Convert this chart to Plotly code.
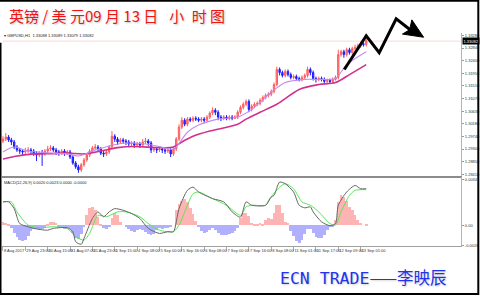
import plotly.graph_objects as go

W, H = 480, 297

# ---------------- data (2-hour bars, GBPUSD) ----------------
bar_idx = list(range(131))

opens = [1.2958,1.2965,1.2972,1.2962,1.2955,1.2937,1.2927,1.2923,1.2920,1.2923,
         1.2927,1.2923,1.2916,1.2909,1.2916,1.2913,1.2923,1.2930,1.2934,1.2927,
         1.2920,1.2916,1.2923,1.2916,1.2920,1.2902,1.2881,1.2868,1.2857,1.2875,
         1.2892,1.2909,1.2923,1.2934,1.2937,1.2930,1.2916,1.2913,1.2920,1.2937,
         1.2975,1.2965,1.2955,1.2962,1.2958,1.2955,1.2948,1.2951,1.2944,1.2948,
         1.2944,1.2955,1.2958,1.2951,1.2927,1.2930,1.2927,1.2930,1.2927,1.2923,
         1.2927,1.2913,1.2930,1.2965,1.3007,1.3031,1.3017,1.3035,1.3031,1.3038,
         1.3035,1.3031,1.3035,1.3031,1.3042,1.3056,1.3066,1.3059,1.3042,1.3038,
         1.3042,1.3038,1.3042,1.3038,1.3042,1.3059,1.3076,1.3087,1.3097,1.3069,
         1.3080,1.3087,1.3090,1.3101,1.3111,1.3118,1.3122,1.3132,1.3156,1.3209,
         1.3198,1.3188,1.3202,1.3191,1.3181,1.3184,1.3177,1.3174,1.3181,1.3188,
         1.3209,1.3198,1.3177,1.3174,1.3177,1.3174,1.3167,1.3170,1.3167,1.3174,
         1.3181,1.3261,1.3271,1.3261,1.3278,1.3268,1.3282,1.3285,1.3292,1.3299,
         1.3296]

highs = [1.2975,1.2986,1.2979,1.2969,1.2962,1.2944,1.2934,1.2930,1.2934,1.2937,
         1.2934,1.2930,1.2923,1.2923,1.2927,1.2930,1.2941,1.2944,1.2941,1.2934,
         1.2927,1.2930,1.2930,1.2927,1.2927,1.2909,1.2888,1.2875,1.2881,1.2899,
         1.2916,1.2930,1.2941,1.2948,1.2944,1.2937,1.2923,1.2927,1.2944,1.2993,
         1.2982,1.2972,1.2969,1.2969,1.2965,1.2962,1.2958,1.2958,1.2955,1.2955,
         1.2965,1.2969,1.2965,1.2958,1.2937,1.2937,1.2937,1.2937,1.2934,1.2934,
         1.2934,1.2937,1.2972,1.3017,1.3042,1.3038,1.3042,1.3042,1.3045,1.3045,
         1.3042,1.3042,1.3042,1.3049,1.3062,1.3076,1.3073,1.3066,1.3049,1.3049,
         1.3049,1.3049,1.3049,1.3049,1.3066,1.3083,1.3094,1.3104,1.3104,1.3087,
         1.3094,1.3097,1.3108,1.3118,1.3125,1.3129,1.3139,1.3163,1.3219,1.3216,
         1.3205,1.3209,1.3209,1.3198,1.3191,1.3191,1.3184,1.3188,1.3195,1.3219,
         1.3216,1.3205,1.3184,1.3184,1.3184,1.3181,1.3177,1.3177,1.3181,1.3188,
         1.3278,1.3278,1.3278,1.3285,1.3285,1.3289,1.3296,1.3299,1.3306,1.3306,
         1.3317]

lows = [1.2951,1.2958,1.2955,1.2944,1.2930,1.2920,1.2913,1.2909,1.2913,1.2916,
        1.2913,1.2906,1.2888,1.2902,1.2871,1.2906,1.2916,1.2923,1.2920,1.2909,
        1.2906,1.2909,1.2906,1.2909,1.2895,1.2875,1.2861,1.2847,1.2850,1.2868,
        1.2885,1.2902,1.2916,1.2927,1.2920,1.2909,1.2902,1.2906,1.2913,1.2930,
        1.2955,1.2944,1.2948,1.2948,1.2944,1.2937,1.2941,1.2934,1.2937,1.2934,
        1.2937,1.2948,1.2941,1.2916,1.2920,1.2916,1.2920,1.2916,1.2913,1.2916,
        1.2902,1.2906,1.2923,1.2958,1.3000,1.3010,1.3010,1.3024,1.3024,1.3028,
        1.3024,1.3024,1.3021,1.3024,1.3035,1.3049,1.3049,1.3031,1.3028,1.3031,
        1.3031,1.3031,1.3031,1.3035,1.3035,1.3052,1.3069,1.3080,1.3059,1.3062,
        1.3073,1.3080,1.3083,1.3094,1.3104,1.3111,1.3115,1.3125,1.3150,1.3188,
        1.3181,1.3181,1.3184,1.3174,1.3174,1.3170,1.3167,1.3167,1.3174,1.3181,
        1.3188,1.3170,1.3163,1.3167,1.3167,1.3160,1.3160,1.3160,1.3163,1.3170,
        1.3174,1.3254,1.3250,1.3254,1.3261,1.3261,1.3275,1.3278,1.3285,1.3289,
        1.3289]

closes = [1.2965,1.2972,1.2962,1.2955,1.2937,1.2927,1.2923,1.2920,1.2923,1.2927,
          1.2923,1.2916,1.2909,1.2916,1.2913,1.2923,1.2930,1.2934,1.2927,1.2920,
          1.2916,1.2923,1.2916,1.2920,1.2902,1.2881,1.2868,1.2857,1.2875,1.2892,
          1.2909,1.2923,1.2934,1.2937,1.2930,1.2916,1.2913,1.2920,1.2937,1.2975,
          1.2965,1.2955,1.2962,1.2958,1.2955,1.2948,1.2951,1.2944,1.2948,1.2944,
          1.2955,1.2958,1.2951,1.2927,1.2930,1.2927,1.2930,1.2927,1.2923,1.2927,
          1.2913,1.2930,1.2965,1.3007,1.3031,1.3017,1.3035,1.3031,1.3038,1.3035,
          1.3031,1.3035,1.3031,1.3042,1.3056,1.3066,1.3059,1.3042,1.3038,1.3042,
          1.3038,1.3042,1.3038,1.3042,1.3059,1.3076,1.3087,1.3097,1.3069,1.3080,
          1.3087,1.3090,1.3101,1.3111,1.3118,1.3122,1.3132,1.3156,1.3209,1.3198,
          1.3188,1.3202,1.3191,1.3181,1.3184,1.3177,1.3174,1.3181,1.3188,1.3209,
          1.3198,1.3177,1.3174,1.3177,1.3174,1.3167,1.3170,1.3167,1.3174,1.3181,
          1.3261,1.3271,1.3261,1.3278,1.3268,1.3282,1.3285,1.3292,1.3299,1.3296,
          1.3310]

ma_fast_idx = [0,4,9,17,23,27,32,38,44,51,56,61,66,70,77,84,89,96,101,108,113,119,123,130]
ma_fast = [1.2920,1.2937,1.2923,1.2916,1.2913,1.2906,1.2923,1.2941,1.2951,1.2948,1.2939,1.2930,
           1.2989,1.3014,1.3035,1.3042,1.3069,1.3129,1.3163,1.3174,1.3174,1.3177,1.3226,1.3271]

ma_slow_idx = [0,4,11,17,23,29,35,41,47,56,61,64,68,74,84,87,92,98,106,113,119,124,130]
ma_slow = [1.2895,1.2904,1.2913,1.2914,1.2916,1.2913,1.2923,1.2935,1.2939,1.2935,1.2937,1.2955,
           1.2975,1.2993,1.3017,1.3035,1.3059,1.3087,1.3139,1.3156,1.3163,1.3191,1.3226]

# MACD values in units of 0.0001
macd_hist = [2.2,1.5,0.7,-2.2,-5.9,-8.8,-11.0,-11.7,-11.0,-8.1,
             -4.4,-2.9,-2.9,-3.7,-2.9,-2.2,0.7,2.2,2.2,1.5,
             -0.7,-2.2,-2.9,-2.2,-2.9,-5.9,-9.5,-10.3,-6.6,-1.5,
             7.3,12.5,13.2,11.7,5.9,0.7,-2.2,-2.9,-0.7,5.1,
             8.8,7.3,2.2,0.0,-0.7,-2.9,-4.4,-5.1,-3.7,-2.9,
             -3.7,-5.1,-6.6,-7.3,-6.6,-3.7,-2.2,-2.9,-2.2,-2.2,
             -1.5,0.0,11.7,16.1,18.3,19.1,16.9,12.5,8.1,2.9,
             -0.7,-4.4,-5.9,-5.1,-3.7,-2.2,-3.7,-5.9,-7.3,-7.3,
             -7.3,-6.6,-5.9,-4.4,-2.2,5.1,8.8,9.5,6.6,1.5,
             0.7,0.7,1.5,0.7,3.7,5.1,4.4,8.8,14.7,14.7,
             8.8,2.2,1.5,-4.4,-8.1,-11.7,-13.2,-11.0,-6.6,-2.9,
             -2.9,-5.9,-8.8,-9.5,-9.5,-7.3,-3.7,-1.5,-0.7,3.7,
             17.6,22.7,21.3,18.3,13.9,11.0,7.3,3.7,1.5,0.0,
             0.7]

macd_idx = [0,2,4,6,9,11,16,18,23,25,26,28,29,32,34,36,38,40,43,46,49,52,56,59,61,63,66,68,70,75,
            79,82,85,87,89,94,96,97,99,101,104,106,108,110,111,114,117,119,120,123,126,128,130]
macd_main = [17.2,17.2,12.2,1.2,-1.2,-2.4,-3.7,-2.4,-1.9,-4.8,-12.2,-14.1,-9.7,4.9,9.8,6.2,9.8,12.2,11.0,8.6,
             4.9,-2.4,-6.1,-4.8,-4.8,12.2,25.7,28.1,24.5,19.6,17.2,9.8,5.9,17.2,14.7,14.7,20.8,22.0,31.8,30.6,
             24.5,14.7,12.8,13.5,9.8,2.5,-0.4,1.2,14.7,24.5,29.3,26.9,26.9]

signal_idx = [0,3,5,9,13,18,23,26,29,31,34,37,41,44,49,52,56,61,63,66,68,70,75,80,85,87,89,94,95,99,
              101,104,107,110,113,117,119,121,124,126,130]
signal_line = [17.2,17.2,9.8,0.0,-1.9,-1.2,-2.4,-8.5,-11.0,-6.1,7.3,6.2,9.8,9.8,6.2,1.2,-3.7,-4.8,0.0,14.7,
               23.2,24.5,19.6,14.7,7.3,13.5,14.7,14.7,18.3,28.1,30.6,26.9,17.2,14.7,9.8,1.2,0.0,9.8,22.0,25.7,
               26.2]

price_ticks = [1.3328,1.3284,1.3240,1.3195,1.3151,1.3107,1.3063,1.3018,1.2974,1.2930,1.2885,1.2841]
price_tick_text = ["1.33280","1.32840","1.32400","1.31950","1.31510","1.31070",
                   "1.30630","1.30180","1.29740","1.29300","1.28850","1.28410"]
current_price = 1.33082

time_tick_idx = [0,8,16,24,32,40,48,56,64,72,80,88,96,104,112,120,128]
time_tick_text = ["8 Aug 2017","29 Aug 23:00","30 Aug 15:00","31 Aug 07:00","31 Aug 23:00",
                  "1 Sep 15:00","4 Sep 08:00","5 Sep 00:00","5 Sep 16:00","6 Sep 08:00",
                  "7 Sep 00:00","7 Sep 16:00","8 Sep 08:00","11 Sep 01:00","11 Sep 17:00",
                  "12 Sep 09:00","13 Sep 01:00"]

macd_ticks = [34, 0, -15.2]
macd_tick_text = ["0.0034", "0.00", "-0.0026"]


def PX(x):
    return x / W


def PY(y):
    return 1 - y / H


SMALL = "Liberation Sans, Arial, sans-serif"

fig = go.Figure()

fig.add_trace(go.Candlestick(
    x=bar_idx, open=opens, high=highs, low=lows, close=closes,
    increasing=dict(line=dict(color="#ff5c5c", width=1), fillcolor="#ff8c8c"),
    decreasing=dict(line=dict(color="#1c1cff", width=1), fillcolor="#3a3aff"),
    whiskerwidth=0, xaxis="x", yaxis="y", hoverinfo="skip"))

fig.add_trace(go.Scatter(x=ma_slow_idx, y=ma_slow, mode="lines",
                         line=dict(color="#d2308a", width=1.6, shape="spline", smoothing=0.8),
                         xaxis="x", yaxis="y", hoverinfo="skip"))
fig.add_trace(go.Scatter(x=ma_fast_idx, y=ma_fast, mode="lines",
                         line=dict(color="#c48af2", width=1.1, shape="spline", smoothing=0.8),
                         xaxis="x", yaxis="y", hoverinfo="skip"))

fig.add_trace(go.Bar(x=bar_idx, y=macd_hist,
                     marker=dict(color=["#ffb4b4" if v >= 0 else "#b0b0ff" for v in macd_hist],
                                 line=dict(width=0)),
                     xaxis="x2", yaxis="y2", hoverinfo="skip"))
fig.add_trace(go.Scatter(x=signal_idx, y=signal_line, mode="lines",
                         line=dict(color="#55e855", width=1, shape="spline", smoothing=0.7),
                         xaxis="x2", yaxis="y2", hoverinfo="skip"))
fig.add_trace(go.Scatter(x=macd_idx, y=macd_main, mode="lines",
                         line=dict(color="#666666", width=1, shape="spline", smoothing=0.7),
                         xaxis="x2", yaxis="y2", hoverinfo="skip"))

xr = [-0.357, 163.93]
xdom = [PX(2), PX(462)]

fig.update_layout(
    width=W, height=H, margin=dict(l=0, r=0, t=0, b=0),
    paper_bgcolor="white", plot_bgcolor="white", showlegend=False,
    bargap=0,
    xaxis=dict(domain=xdom, range=xr, anchor="y", showticklabels=False, showgrid=False,
               zeroline=False, showline=True, linecolor="#8c8c8c", linewidth=2, ticks="",
               rangeslider=dict(visible=False), fixedrange=True),
    yaxis=dict(domain=[PY(177), PY(33)], range=[1.28363, 1.33374], side="right", anchor="x",
               tickvals=price_ticks, ticktext=price_tick_text,
               tickfont=dict(size=4, family=SMALL, color="#333333"),
               ticks="outside", ticklen=2, tickcolor="#999999", showgrid=False, zeroline=False,
               showline=True, linecolor="#b4b4b4", linewidth=1, fixedrange=True),
    xaxis2=dict(domain=xdom, range=xr, anchor="y2", tickvals=time_tick_idx, ticktext=time_tick_text,
                tickangle=0, ticklabelposition="outside right", ticks="outside", ticklen=4,
                tickcolor="#aaaaaa",
                tickfont=dict(size=4, family=SMALL, color="#333333"),
                showline=True, linecolor="#a0a0a0", linewidth=1, showgrid=False, zeroline=False,
                fixedrange=True),
    yaxis2=dict(domain=[PY(247.7), PY(178)], range=[-15.4, 35.7], side="right", anchor="x2",
                tickvals=macd_ticks, ticktext=macd_tick_text,
                tickfont=dict(size=4, family=SMALL, color="#333333"),
                ticks="outside", ticklen=2, tickcolor="#999999", showgrid=False, zeroline=False,
                showline=True, linecolor="#b4b4b4", linewidth=1, fixedrange=True),
)

shapes = []
# current price line
shapes.append(dict(type="line", xref="paper", yref="y", x0=PX(3), x1=PX(462),
                   y0=current_price, y1=current_price, line=dict(color="#ffd4d4", width=1), layer="below"))
# hand-drawn forecast arrow
pts = [(345, 70), (367, 36), (380, 53), (397, 19), (411, 30)]
path = "M " + " L ".join(f"{PX(x):.5f},{PY(y):.5f}" for x, y in pts)
shapes.append(dict(type="path", xref="paper", yref="paper", path=path,
                   line=dict(color="black", width=3)))
head = [(412.7, 20), (424.5, 37.5), (403.3, 34.3), (410.5, 30)]
hpath = "M " + " L ".join(f"{PX(x):.5f},{PY(y):.5f}" for x, y in head) + " Z"
shapes.append(dict(type="path", xref="paper", yref="paper", path=hpath,
                   fillcolor="black", line=dict(color="black", width=1)))
# black frame
for (x0, y0, x1, y1) in [(0, 0.7, 480, 0.7), (0, 296, 480, 296), (479.3, 0, 479.3, 297), (0.5, 43, 0.5, 297)]:
    shapes.append(dict(type="line", xref="paper", yref="paper", x0=PX(x0), y0=PY(y0), x1=PX(x1), y1=PY(y1),
                       line=dict(color="black", width=2)))
fig.update_layout(shapes=shapes)

ann = []
ann.append(dict(xref="paper", yref="paper", x=PX(7), y=PY(15.5), xanchor="left", yanchor="middle",
                text="英镑 / 美 元09 月 13 日\u2002 小\u2002时 图", showarrow=False,
                font=dict(family="Noto Sans CJK SC", size=15, color="#ee1515",
                          shadow="1px 1px 2px #c4c4c4")))
ann.append(dict(xref="paper", yref="paper", x=PX(2.5), y=PY(36), xanchor="left", yanchor="middle",
                text="▾ GBPUSD,H1  1.33088 1.33089 1.33079 1.33082", showarrow=False,
                font=dict(family=SMALL, size=4, color="#222222")))
ann.append(dict(xref="paper", yref="paper", x=PX(2.5), y=PY(184), xanchor="left", yanchor="middle",
                text="MACD(12,26,9) 0.0020 0.0023 0.0000 -0.0000", showarrow=False,
                font=dict(family=SMALL, size=4, color="#222222")))
ann.append(dict(xref="paper", yref="y", x=PX(463), y=current_price, xanchor="left", yanchor="middle",
                text="1.33082", showarrow=False, bgcolor="black", borderpad=0.5,
                font=dict(family=SMALL, size=4, color="white")))
ann.append(dict(xref="paper", yref="paper", x=PX(279), y=PY(278.5), xanchor="left", yanchor="middle",
                text="ECN TRADE<span style=\"font-family:'Noto Sans CJK SC'\">——李映辰</span>",
                showarrow=False,
                font=dict(family="DejaVu Sans Mono", size=16.5, color="#2233ee",
                          shadow="1px 1px 2px #cccccc")))
fig.update_layout(annotations=ann)

fig.write_html("out.html", config={"displayModeBar": False})
